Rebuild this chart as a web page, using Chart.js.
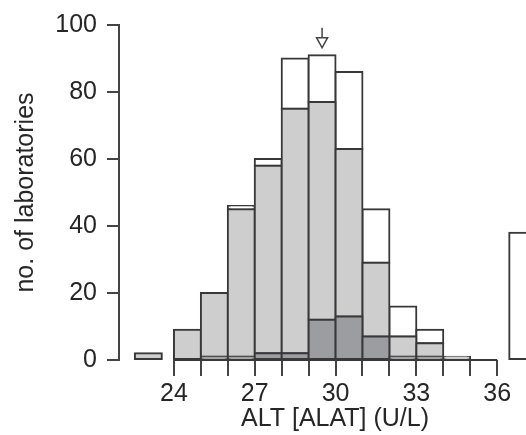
<!DOCTYPE html>
<html>
<head>
<meta charset="utf-8">
<script src="https://cdn.jsdelivr.net/npm/chart.js@4.4.0/dist/chart.umd.min.js"></script>
<style>
  html, body { margin: 0; padding: 0; background: #fff; overflow: hidden; }
  canvas { display: block; }
</style>
</head>
<body>
<canvas id="altChart" width="551" height="435"></canvas>
<script>
// histogram bins: lower edge of each bin (width 1 U/L), first and last are the out-of-range bins
const binStart = [22.55, 24, 25, 26, 27, 28, 29, 30, 31, 32, 33, 34, 35, 36.45];
const darkCounts = [0, 0, 1, 1, 2, 2, 12, 13, 7, 1, 1, 0, 0, 0];
const lightCounts = [2, 9, 19, 44, 56, 73, 65, 50, 22, 6, 4, 1, 0, 0];
const whiteCounts = [0, 0, 0, 1, 2, 15, 14, 23, 16, 9, 4, 0, 0, 38];

const xTicks = [24, 25, 26, 27, 28, 29, 30, 31, 32, 33, 34, 35, 36];
const xTickLabels = [24, 27, 30, 33, 36];
const yTicks = [0, 20, 40, 60, 80, 100];
const baseRange = [24, 36];

// target value arrow
const targetValue = 29.5;
const arrowTop = 99.2;
const arrowNeck = 96.2;
const arrowTip = 93.2;

const edge = '#383838';
const font = { family: '"Liberation Sans", Arial, sans-serif', size: 25 };

function toBars(counts) {
  return counts.map((c, i) => ({ x: binStart[i] + 0.5, y: c === 0 ? null : c }));
}

function barSet(label, counts, fill) {
  return {
    type: 'bar',
    label: label,
    data: toBars(counts),
    backgroundColor: fill,
    borderColor: edge,
    borderWidth: 2,
    borderSkipped: false,
    inflateAmount: 1,
    barPercentage: 1,
    categoryPercentage: 1,
    stack: 'labs',
    clip: false,
  };
}

const targetArrow = {
  id: 'targetArrow',
  afterDatasetsDraw(chart) {
    const { ctx, scales: { x, y } } = chart;
    const px = x.getPixelForValue(targetValue);
    const top = y.getPixelForValue(arrowTop);
    const neck = y.getPixelForValue(arrowNeck);
    const tip = y.getPixelForValue(arrowTip);
    ctx.save();
    ctx.strokeStyle = '#444';
    ctx.lineWidth = 1.5;
    ctx.beginPath();
    ctx.moveTo(px, top);
    ctx.lineTo(px, neck);
    ctx.stroke();
    ctx.beginPath();
    ctx.moveTo(px - 5.5, neck);
    ctx.lineTo(px + 5.5, neck);
    ctx.lineTo(px, tip);
    ctx.closePath();
    ctx.fillStyle = '#fff';
    ctx.fill();
    ctx.stroke();
    ctx.restore();
  },
};

const ctx = document.getElementById('altChart').getContext('2d');
new Chart(ctx, {
  type: 'bar',
  data: {
    datasets: [
      {
        type: 'line',
        label: 'base',
        data: baseRange.map((v) => ({ x: v, y: 0 })),
        borderColor: edge,
        borderWidth: 2,
        pointRadius: 0,
        clip: false,
      },
      barSet('dark', darkCounts, '#9c9da1'),
      barSet('light', lightCounts, '#cececf'),
      barSet('white', whiteCounts, '#ffffff'),
    ],
  },
  options: {
    responsive: false,
    animation: false,
    layout: { padding: { top: 20, left: 0, right: 0, bottom: 0 } },
    plugins: {
      legend: { display: false },
      tooltip: { enabled: false },
    },
    scales: {
      x: {
        type: 'linear',
        stacked: true,
        offset: false,
        min: 21.96,
        max: 38.0,
        afterBuildTicks: (scale) => {
          scale.ticks = xTicks.map((v) => ({ value: v }));
        },
        afterFit: (scale) => {
          scale.height = 75;
        },
        border: { display: false },
        grid: {
          offset: false,
          drawOnChartArea: false,
          drawTicks: true,
          tickLength: 16,
          color: '#444',
          lineWidth: 2,
        },
        ticks: {
          autoSkip: false,
          maxRotation: 0,
          padding: 3,
          color: '#262626',
          font: font,
          callback: (value) => (xTickLabels.includes(value) ? String(value) : ''),
        },
        title: {
          display: true,
          text: 'ALT [ALAT] (U/L)',
          color: '#262626',
          font: font,
          padding: { top: 0, bottom: 1 },
        },
      },
      y: {
        stacked: true,
        min: 0,
        max: 100,
        afterBuildTicks: (scale) => {
          scale.ticks = yTicks.map((v) => ({ value: v }));
        },
        afterFit: (scale) => {
          scale.width = 119;
        },
        border: { display: true, color: '#444', width: 2 },
        grid: {
          drawOnChartArea: false,
          drawTicks: true,
          tickLength: 12,
          color: '#444',
          lineWidth: 2,
        },
        ticks: {
          padding: 10,
          color: '#262626',
          font: font,
        },
        title: {
          display: true,
          text: 'no. of laboratories',
          color: '#262626',
          font: font,
          padding: { top: 11, bottom: 0 },
        },
      },
    },
  },
  plugins: [targetArrow],
});
</script>
</body>
</html>
